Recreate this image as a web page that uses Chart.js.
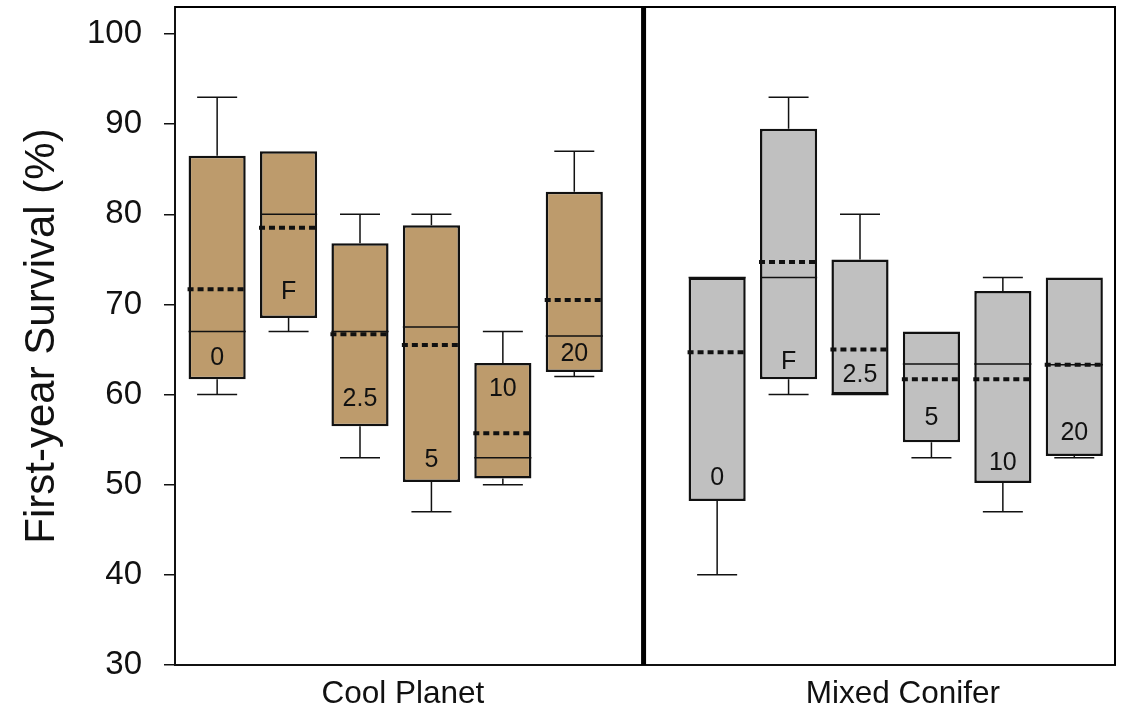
<!DOCTYPE html>
<html>
<head>
<meta charset="utf-8">
<script src="https://cdn.jsdelivr.net/npm/chart.js@4.4.1/dist/chart.umd.min.js"></script>
<style>
  html, body { margin: 0; padding: 0; background: #fff; }
  #wrap { width: 1130px; height: 707px; }
</style>
</head>
<body>
<div id="wrap"><canvas id="survivalChart"></canvas></div>
<script>
const groups = ["Cool Planet", "Mixed Conifer"];
const treatments = ["0", "F", "2.5", "5", "10", "20"];
const yTicks = [30, 40, 50, 60, 70, 80, 90, 100];

// box slots along the x axis (slot 6 is the gap between sites)
const coolSlots = [0, 1, 2, 3, 4, 5];
const coniferSlots = [7, 8, 9, 10, 11, 12];
const groupSlots = [2.6, 9.6];
const groupSplit = 5.97;

// Cool Planet
const coolMin    = [60, 67, 53, 47, 50, 62];
const coolQ1     = [61.7, 68.5, 56.5, 50.3, 50.7, 62.5];
const coolMedian = [67, 80, 67, 67.5, 53, 66.5];
const coolMean   = [71.7, 78.5, 66.7, 65.5, 55.7, 70.5];
const coolQ3     = [86.5, 87, 76.8, 78.8, 63.5, 82.5];
const coolMax    = [93, 87, 80, 80, 67, 87];
const coolLabelAt = [64.1, 71.4, 59.5, 52.7, 60.6, 64.5];

// Mixed Conifer
const coniferMin    = [40, 60, 60, 53, 47, 53];
const coniferQ1     = [48.2, 61.7, 60, 54.7, 50.2, 53.2];
const coniferMedian = [73, 73, 60, 63.4, 63.4, 63.3];
const coniferMean   = [64.7, 74.7, 65, 61.7, 61.7, 63.3];
const coniferQ3     = [73, 89.5, 75, 67, 71.5, 73];
const coniferMax    = [73, 93, 80, 67, 73, 73];
const coniferLabelAt = [50.7, 63.6, 62.2, 57.4, 52.4, 55.7];

const FONT = "'Liberation Sans', Arial, sans-serif";

const series = [
  { slots: coolSlots, min: coolMin, q1: coolQ1, median: coolMedian, mean: coolMean,
    q3: coolQ3, max: coolMax, labelAt: coolLabelAt, fill: "#bd9b6c" },
  { slots: coniferSlots, min: coniferMin, q1: coniferQ1, median: coniferMedian, mean: coniferMean,
    q3: coniferQ3, max: coniferMax, labelAt: coniferLabelAt, fill: "#c0c0c0" }
];

// whiskers, median, mean, treatment labels, site divider and frame
const boxExtras = {
  id: "boxExtras",
  afterDatasetsDraw(chart) {
    const { ctx, chartArea: area, scales: { x, y } } = chart;
    const capHalf = (x.getPixelForValue(1) - x.getPixelForValue(0)) * 0.28;
    ctx.save();
    series.forEach((s, d) => {
      const bars = chart.getDatasetMeta(d).data;
      s.slots.forEach((slot, i) => {
        const bar = bars[i];
        const cx = bar.x;
        const left = cx - bar.width / 2;
        const right = cx + bar.width / 2;
        ctx.strokeStyle = "#111";
        ctx.setLineDash([]);
        ctx.lineWidth = 1.5;
        // whiskers
        [[s.q3[i], s.max[i]], [s.q1[i], s.min[i]]].forEach(([from, to]) => {
          if (Math.abs(from - to) < 0.05) return;
          ctx.beginPath();
          ctx.moveTo(cx, y.getPixelForValue(from));
          ctx.lineTo(cx, y.getPixelForValue(to));
          ctx.moveTo(cx - capHalf, y.getPixelForValue(to));
          ctx.lineTo(cx + capHalf, y.getPixelForValue(to));
          ctx.stroke();
        });
        // median
        const my = y.getPixelForValue(s.median[i]);
        ctx.beginPath();
        ctx.moveTo(left, my);
        ctx.lineTo(right, my);
        ctx.stroke();
        // mean
        const ay = y.getPixelForValue(s.mean[i]);
        ctx.lineWidth = 4;
        ctx.setLineDash([6, 4]);
        ctx.beginPath();
        ctx.moveTo(left - 1, ay);
        ctx.lineTo(right, ay);
        ctx.stroke();
        ctx.setLineDash([]);
        // treatment label
        ctx.fillStyle = "#111";
        ctx.font = "25px " + FONT;
        ctx.textAlign = "center";
        ctx.textBaseline = "middle";
        ctx.fillText(treatments[i], cx, y.getPixelForValue(s.labelAt[i]));
      });
    });
    // divider between the two sites
    const sx = x.getPixelForValue(groupSplit);
    ctx.strokeStyle = "#000";
    ctx.lineWidth = 5;
    ctx.beginPath();
    ctx.moveTo(sx, area.top);
    ctx.lineTo(sx, area.bottom);
    ctx.stroke();
    // top and right frame
    ctx.lineWidth = 2;
    ctx.beginPath();
    ctx.moveTo(area.left, area.top);
    ctx.lineTo(area.right, area.top);
    ctx.lineTo(area.right, area.bottom);
    ctx.stroke();
    ctx.restore();
  }
};

const datasets = series.map((s) => ({
  data: s.slots.map((slot, i) => ({ x: slot, y: [s.q1[i], s.q3[i]] })),
  backgroundColor: s.fill,
  borderColor: "#111",
  borderWidth: 2.5,
  borderSkipped: false,
  grouped: false,
  barPercentage: 0.8,
  categoryPercentage: 1
}));

new Chart(document.getElementById("survivalChart"), {
  type: "bar",
  data: { datasets },
  options: {
    responsive: true,
    maintainAspectRatio: false,
    animation: false,
    layout: { padding: { top: 7, right: 15, left: 0, bottom: 0 } },
    plugins: { legend: { display: false }, tooltip: { enabled: false } },
    scales: {
      x: {
        type: "linear",
        offset: false,
        min: -0.59,
        max: 12.57,
        afterBuildTicks: (scale) => { scale.ticks = groupSlots.map((v) => ({ value: v })); },
        afterFit: (scale) => {
          scale.height = 42;
          scale.paddingLeft = 0;
          scale.paddingRight = 0;
        },
        ticks: {
          color: "#111",
          font: { family: FONT, size: 31.5 },
          padding: 10,
          maxRotation: 0,
          autoSkip: false,
          callback: (v) => groups[groupSlots.indexOf(v)]
        },
        grid: { display: false, drawTicks: false },
        border: { color: "#111", width: 2 }
      },
      y: {
        min: 30,
        max: 103,
        afterBuildTicks: (scale) => { scale.ticks = yTicks.map((v) => ({ value: v })); },
        afterFit: (scale) => {
          scale.width = 175;
          scale.paddingTop = 0;
          scale.paddingBottom = 0;
        },
        ticks: {
          color: "#111",
          font: { family: FONT, size: 33 },
          padding: 22
        },
        grid: { drawOnChartArea: false, tickLength: 11, color: "#111", lineWidth: 1.5 },
        border: { color: "#111", width: 2 },
        title: {
          display: true,
          text: "First-year Survival (%)",
          color: "#111",
          font: { family: FONT, size: 42 },
          padding: { top: 17, bottom: 0 }
        }
      }
    }
  },
  plugins: [boxExtras]
});
</script>
</body>
</html>
